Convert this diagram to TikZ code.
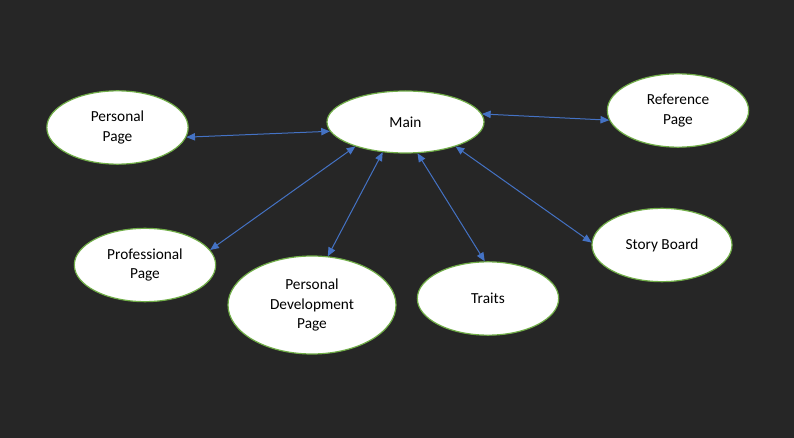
\documentclass[tikz,border=0pt]{standalone}
\usepackage{fontspec}
\setmainfont{Carlito}
\usetikzlibrary{shapes.geometric,arrows.meta}
\definecolor{bgdark}{HTML}{262626}
\definecolor{pagegreen}{HTML}{70AD47}
\definecolor{linkblue}{HTML}{4472C4}
\begin{document}
\begin{tikzpicture}[x=0.75pt, y=-0.75pt, font=\fontsize{11.5}{14.5}\selectfont]
\tikzset{page/.style={ellipse, draw=pagegreen, fill=white, line width=0.9pt,
    inner sep=0pt, align=center, minimum width=106pt, minimum height=55pt},
  link/.style={{Triangle[length=6.5pt,width=5.5pt]}-{Triangle[length=6.5pt,width=5.5pt]},
    draw=linkblue, line width=0.75pt}}

% dark slide background
\fill[bgdark] (0,0) rectangle (794,438);
\useasboundingbox (0,0) rectangle (794,438);

\node[page, minimum width=117.75pt, minimum height=46.5pt] (main) at (405.5,122) {Main};
\node[page] (personal) at (117.5,127.5) {Personal\\Page};
\node[page] (reference) at (678,110.5) {Reference\\Page};
\node[page] (professional) at (145,265) {Professional\\Page};
\node[page, minimum width=126pt, minimum height=73.5pt] (development) at (312,305)
    {Personal\\Development\\Page};
\node[page] (traits) at (488,298.5) {Traits};
\node[page, minimum width=105pt] (story) at (662,245) {Story Board};

% links to the main page
\draw[link] (personal.352) -- (main.187);
\draw[link] (main.6.5) -- (reference.188);
\draw[link] (main.206) -- (professional.13);
\draw[link] (main.233) -- (development.72);
\draw[link] (main.291) -- (traits.95);
\draw[link] (main.334.5) -- (story.178);

\end{tikzpicture}
\end{document}
